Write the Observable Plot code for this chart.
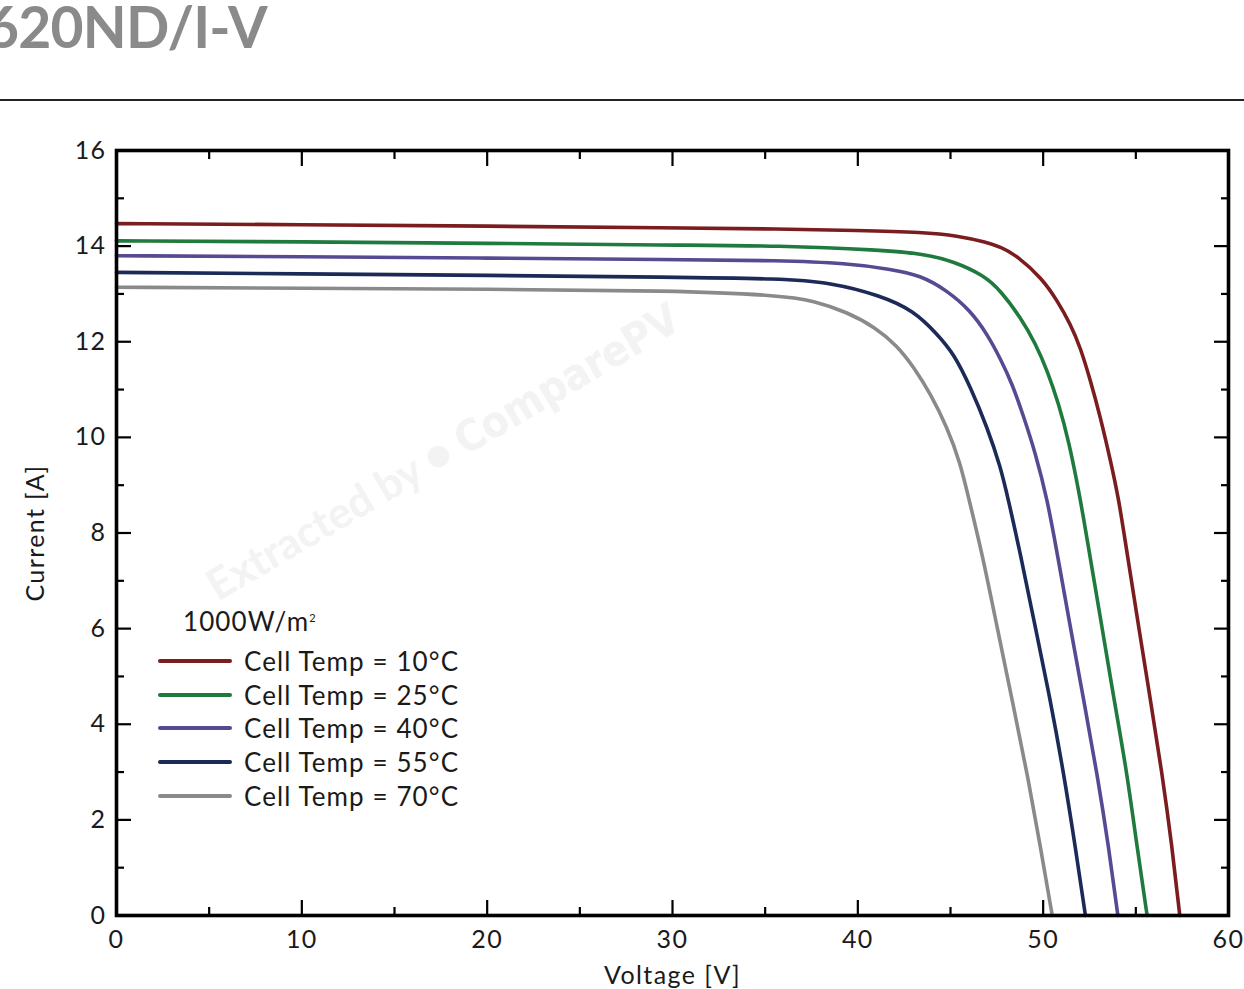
<!DOCTYPE html>
<html>
<head>
<meta charset="utf-8">
<script src="https://cdn.jsdelivr.net/npm/d3@7"></script>
<script src="https://cdn.jsdelivr.net/npm/@observablehq/plot@0.6"></script>
<style>
  html, body { margin: 0; padding: 0; background: #fff; }
  #wrap { position: relative; width: 1244px; height: 989px; overflow: hidden; font-family: Lato, "Noto Sans", sans-serif; }
  #title { position: absolute; left: -14px; top: -8px; font-size: 57px; font-weight: 700; color: #8a8a8a; white-space: nowrap; letter-spacing: -0.8px; }
  #rule { position: absolute; left: 0; top: 99px; width: 1244px; height: 2px; background: #222; }
  #chart { position: absolute; left: 0; top: 101px; }
  #chart svg text { letter-spacing: 1.4px; }
  #watermark { position: absolute; left: 210px; top: 562px; transform: rotate(-30.5deg); transform-origin: left center; font-size: 43px; line-height: 52px; color: #f3f3f3; white-space: nowrap; font-weight: 700; }
  #watermark .cp { font-family: "Liberation Sans Narrow", "DejaVu Sans Condensed", sans-serif; font-weight: 700; }
  #legend { position: absolute; left: 158px; top: 597px; color: #1a1a1a; font-size: 26px; letter-spacing: 1.1px; }
  #legend .irr { margin-left: 25px; height: 47px; line-height: 42px; }
  #legend .irr sup { font-size: 11px; vertical-align: 9px; }
  #legend .row { display: flex; align-items: center; height: 33.75px; }
  #legend .sw { width: 74px; height: 4px; border-radius: 2px; margin-right: 12px; }
</style>
</head>
<body>
<div id="wrap">
  <div id="title"></div>
  <div id="rule"></div>
  <div id="watermark">Extracted by ● <span class="cp">ComparePV</span></div>
  <div id="chart"></div>
  <div id="legend"></div>
</div>
<script>
const titleText = "620ND/I-V";
const irradiance = "1000W/m";
const seriesNames = ["Cell Temp = 10°C", "Cell Temp = 25°C", "Cell Temp = 40°C", "Cell Temp = 55°C", "Cell Temp = 70°C"];
const seriesColors = ["#7b1d1f", "#1f7a3e", "#564a92", "#1b2a56", "#8a8a8a"];

const v10 = [0, 10, 20, 30, 35.83, 40, 43.56, 45.36, 46.98, 47.7, 48.6, 49.95, 50.76, 51.47, 52.0, 52.55, 53.09, 53.63, 54.08, 54.53, 55.16, 55.79, 56.42, 56.96, 57.37];
const i10 = [14.47, 14.45, 14.42, 14.38, 14.36, 14.33, 14.29, 14.22, 14.08, 13.98, 13.80, 13.32, 12.86, 12.37, 11.89, 11.19, 10.42, 9.52, 8.71, 7.57, 6.02, 4.50, 2.97, 1.42, 0];

const v25 = [0, 10, 20, 30, 35.83, 41.2, 43.56, 45.18, 46.8, 47.7, 48.78, 49.59, 50.22, 50.84, 51.38, 52.01, 52.5, 53.18, 53.83, 54.53, 55.07, 55.61];
const i25 = [14.11, 14.09, 14.06, 14.02, 14.01, 13.92, 13.84, 13.68, 13.39, 13.07, 12.51, 11.96, 11.40, 10.70, 9.93, 8.71, 7.57, 6.02, 4.50, 2.97, 1.42, 0];

const v40 = [0, 10, 20, 30, 35.83, 39.42, 41.76, 43.38, 44.82, 46.08, 46.98, 47.7, 48.33, 48.96, 49.59, 50.22, 50.76, 51.47, 52.19, 52.91, 53.54, 54.03];
const i40 = [13.80, 13.78, 13.75, 13.72, 13.70, 13.64, 13.52, 13.39, 13.07, 12.65, 12.16, 11.64, 11.12, 10.42, 9.66, 8.71, 7.57, 6.02, 4.50, 2.97, 1.42, 0];

const v55 = [0, 10, 20, 30, 35.83, 38.52, 41.2, 43.02, 44.28, 45.18, 46.08, 46.98, 47.7, 48.1, 48.77, 49.58, 50.39, 51.11, 51.74, 52.28];
const i55 = [13.45, 13.42, 13.39, 13.35, 13.32, 13.24, 12.97, 12.65, 12.16, 11.75, 11.05, 10.21, 9.38, 8.73, 7.57, 6.02, 4.50, 2.97, 1.42, 0];

const v70 = [0, 10, 20, 30, 35.83, 37.62, 39.42, 40.95, 42.12, 43.02, 43.92, 44.82, 45.54, 45.99, 46.71, 47.52, 48.33, 49.14, 49.86, 50.49];
const i70 = [13.14, 13.12, 13.10, 13.07, 12.97, 12.86, 12.62, 12.30, 11.92, 11.47, 10.91, 10.21, 9.45, 8.71, 7.57, 6.02, 4.50, 2.97, 1.42, 0];

const xMajor = [0, 10, 20, 30, 40, 50, 60];
const xMinor = [5, 15, 25, 35, 45, 55];
const yMajor = [0, 2, 4, 6, 8, 10, 12, 14, 16];
const yMinor = [1, 3, 5, 7, 9, 11, 13, 15];

const voltages = [v10, v25, v40, v55, v70];
const currents = [i10, i25, i40, i55, i70];
const data = [];
seriesNames.forEach((name, k) => {
  voltages[k].forEach((v, j) => data.push({series: name, V: v, I: currents[k][j]}));
});

document.getElementById("title").textContent = titleText;

const tickStyle = {stroke: "#000", strokeWidth: 2.2, text: null, label: null};

const chart = Plot.plot({
  width: 1244,
  height: 888,
  marginLeft: 116,
  marginRight: 16,
  marginTop: 49,
  marginBottom: 74,
  style: {fontFamily: "Lato, 'Noto Sans', sans-serif", color: "#1a1a1a", background: "transparent"},
  x: {domain: [0, 60]},
  y: {domain: [0, 16]},
  color: {domain: seriesNames, range: seriesColors},
  marks: [
    Plot.line(data, {x: "V", y: "I", stroke: "series", strokeWidth: 3.6, curve: "basis"}),
    Plot.axisX({ticks: xMajor, tickSize: -15, anchor: "bottom", ...tickStyle}),
    Plot.axisX({ticks: xMajor, tickSize: -15, anchor: "top", ...tickStyle}),
    Plot.axisX({ticks: xMinor, tickSize: -8, anchor: "bottom", ...tickStyle}),
    Plot.axisX({ticks: xMinor, tickSize: -8, anchor: "top", ...tickStyle}),
    Plot.axisY({ticks: yMajor, tickSize: -15, anchor: "left", ...tickStyle}),
    Plot.axisY({ticks: yMajor, tickSize: -15, anchor: "right", ...tickStyle}),
    Plot.axisY({ticks: yMinor, tickSize: -8, anchor: "left", ...tickStyle}),
    Plot.axisY({ticks: yMinor, tickSize: -8, anchor: "right", ...tickStyle}),
    Plot.axisX({ticks: xMajor, tickSize: 0, tickPadding: 15, anchor: "bottom", fontSize: 25,
      label: "Voltage [V]", labelAnchor: "center", labelArrow: "none", labelOffset: 68}),
    Plot.axisY({ticks: yMajor, tickSize: 0, tickPadding: 10, anchor: "left", fontSize: 25,
      label: "Current [A]", labelAnchor: "center", labelArrow: "none", labelOffset: 90}),
    Plot.frame({stroke: "#000", strokeWidth: 3.6})
  ]
});
document.getElementById("chart").appendChild(chart);

const legend = document.getElementById("legend");
const irr = document.createElement("div");
irr.className = "irr";
irr.innerHTML = irradiance + "<sup>2</sup>";
legend.appendChild(irr);
seriesNames.forEach((name, k) => {
  const row = document.createElement("div");
  row.className = "row";
  const sw = document.createElement("div");
  sw.className = "sw";
  sw.style.background = seriesColors[k];
  const t = document.createElement("span");
  t.textContent = name;
  row.appendChild(sw);
  row.appendChild(t);
  legend.appendChild(row);
});
</script>
</body>
</html>
